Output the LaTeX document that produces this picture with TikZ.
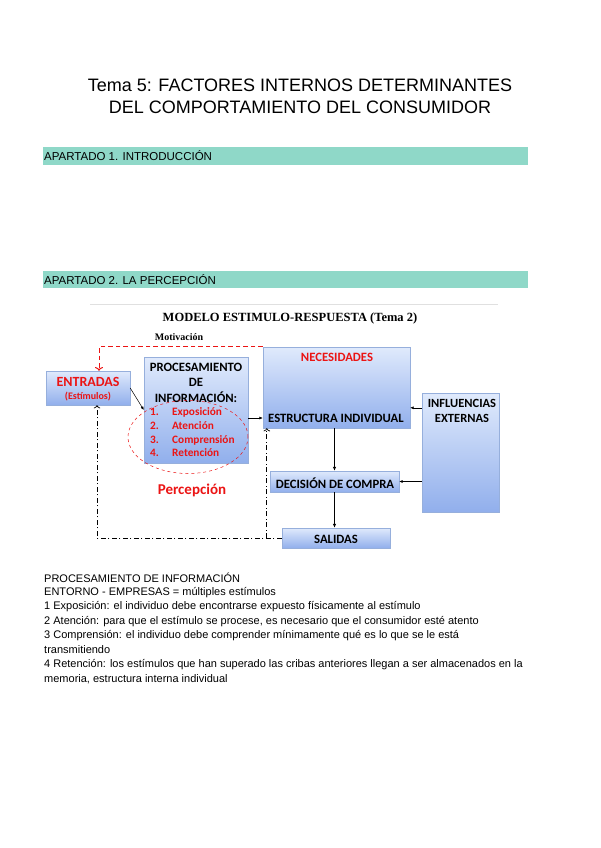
\documentclass[tikz,border=0pt]{standalone}
\usepackage{fontspec}
\setmainfont{Liberation Sans}
\newfontfamily\boxfont{Carlito}
\newfontfamily\serifbold{Liberation Serif}
\usepackage{tikz}
\usetikzlibrary{arrows.meta, positioning, calc, shapes.geometric}
\usepackage{xcolor}
\definecolor{teal}{RGB}{143,216,200}
\definecolor{boxtop}{RGB}{224,234,252}
\definecolor{boxbot}{RGB}{145,175,236}
\definecolor{boxedge}{RGB}{150,175,220}
\definecolor{hotred}{RGB}{235,20,20}

\begin{document}
\begin{tikzpicture}[x=1pt, y=-1pt,
  band/.style={fill=teal, draw=none},
  heading/.style={anchor=west, inner sep=0pt, font=\fontsize{11.5}{13}\selectfont},
  bodyline/.style={anchor=west, inner sep=0pt, font=\fontsize{11}{12}\selectfont},
  bluebox/.style={draw=boxedge, line width=0.4pt, top color=boxtop, bottom color=boxbot, inner sep=0pt},
  boxtxt/.style={font=\boxfont\bfseries\fontsize{12.7}{15.5}\selectfont, inner sep=0pt, align=center},
  redtxt/.style={boxtxt, text=hotred},
  listtxt/.style={anchor=west, inner sep=0pt, text=hotred, font=\boxfont\bfseries\fontsize{11.3}{13}\selectfont},
  arr/.style={-{Latex[length=4pt, width=3.5pt]}, line width=0.9pt},
  thinarr/.style={-{Latex[length=3.5pt, width=3pt]}, line width=0.5pt},
  loopred/.style={->, hotred, line width=1pt, dash pattern=on 4.5pt off 3pt},
  loopback/.style={->, black, line width=0.7pt, dash pattern=on 5pt off 2.5pt on 1pt off 2.5pt}]
  \useasboundingbox (0,0) rectangle (600,848);

  % Title
  \node[font=\fontsize{18}{22}\selectfont, align=center] (title) at (300,96)
    {Tema 5: FACTORES INTERNOS DETERMINANTES\\DEL COMPORTAMIENTO DEL CONSUMIDOR};

  % Section bands
  \fill[band] (43,147) rectangle (528,165);
  \node[heading] (sec1) at (44,156) {APARTADO 1. INTRODUCCIÓN};
  \fill[band] (43,271) rectangle (528,288);
  \node[heading] (sec2) at (44,279.5) {APARTADO 2. LA PERCEPCIÓN};

  % Diagram heading
  \draw[black!12, line width=0.5pt] (90,304) -- (498,304);
  \node[font=\serifbold\bfseries\fontsize{12.5}{14}\selectfont] (model) at (290,318)
    {MODELO ESTIMULO-RESPUESTA (Tema 2)};
  \node[font=\serifbold\bfseries\fontsize{10}{12}\selectfont] (motiv) at (179,337) {Motivación};

  % Boxes
  \node[bluebox, minimum width=84, minimum height=34] (entradas) at (88,388) {};
  \node[bluebox, minimum width=104, minimum height=106] (proc) at (196,410) {};
  \node[bluebox, minimum width=147, minimum height=81] (estr) at (336.5,387.5) {};
  \node[bluebox, minimum width=77, minimum height=119] (infl) at (460.5,452.5) {};
  \node[bluebox, minimum width=129, minimum height=21] (decision) at (334.5,481.5) {};
  \node[bluebox, minimum width=108, minimum height=20] (salidas) at (336,538) {};

  % Box texts
  \node[redtxt, font=\boxfont\bfseries\fontsize{14}{16}\selectfont] (entt) at (88,382) {ENTRADAS};
  \node[redtxt, font=\boxfont\bfseries\fontsize{10}{11}\selectfont] (estim) at (88,397) {(Estímulos)};
  \node[boxtxt] (proct) at (196,382.5) {PROCESAMIENTO\\DE\\INFORMACIÓN:};
  \node[listtxt] (n1) at (150,412) {1.};
  \node[listtxt] (n2) at (150,426) {2.};
  \node[listtxt] (n3) at (150,440) {3.};
  \node[listtxt] (n4) at (150,453) {4.};
  \node[listtxt] (i1) at (172,412) {Exposición};
  \node[listtxt] (i2) at (172,426) {Atención};
  \node[listtxt] (i3) at (172,440) {Comprensión};
  \node[listtxt] (i4) at (172,453) {Retención};
  \node[redtxt] (necs) at (337,357) {NECESIDADES};
  \node[boxtxt] (estrt) at (336,418) {ESTRUCTURA INDIVIDUAL};
  \node[boxtxt, font=\boxfont\bfseries\fontsize{12.5}{15}\selectfont] (inflt) at (462,410.5) {INFLUENCIAS\\EXTERNAS};
  \node[boxtxt] (dect) at (335,483) {DECISIÓN DE COMPRA};
  \node[boxtxt] (salt) at (336,539) {SALIDAS};

  % Perception ring
  \node[ellipse, draw=hotred, dashed, line width=0.5pt, minimum width=120, minimum height=73,
    inner sep=0pt] (ring) at (188,437) {};
  \node[text=hotred, font=\boxfont\bfseries\fontsize{15}{17}\selectfont] (percep) at (192,490) {Percepción};

  % Main arrows
  \draw[thinarr] (entradas.east) -- (proc.west);
  \draw[thinarr] (proc.east |- estrt) -- (estr.west |- estrt);
  \draw[arr] (decision.north |- estr.south) -- (decision.north);
  \draw[arr] (decision.south) -- (decision.south |- salidas.north);
  \coordinate (ie) at ([yshift=-15pt]infl.north west);
  \draw[thinarr] (ie) -- (ie -| estr.east);
  \draw[thinarr] (infl.west |- decision) -- (decision.east);

  % Feedback loops
  \coordinate (fb) at ([xshift=11pt]entradas.north);
  \draw[loopred] (estr.north west) -| (fb);
  \coordinate (bk) at ([xshift=9pt]entradas.south);
  \draw[loopback] (salidas.west) -| (bk);
  \coordinate (br) at ([xshift=4pt]estr.south west);
  \draw[loopback] (br |- salidas.west) -- (br);

  % Notes
  \node[bodyline] (l1) at (44,578) {PROCESAMIENTO DE INFORMACIÓN};
  \node[bodyline] (l2) at (44,592.5) {ENTORNO - EMPRESAS = múltiples estímulos};
  \node[bodyline] (l3) at (44,607) {1 Exposición: el individuo debe encontrarse expuesto físicamente al estímulo};
  \node[bodyline] (l4) at (44,621.5) {2 Atención: para que el estímulo se procese, es necesario que el consumidor esté atento};
  \node[bodyline] (l5) at (44,636) {3 Comprensión: el individuo debe comprender mínimamente qué es lo que se le está};
  \node[bodyline] (l6) at (44,650) {transmitiendo};
  \node[bodyline] (l7) at (44,664.5) {4 Retención: los estímulos que han superado las cribas anteriores llegan a ser almacenados en la};
  \node[bodyline] (l8) at (44,679) {memoria, estructura interna individual};
\end{tikzpicture}
\end{document}
